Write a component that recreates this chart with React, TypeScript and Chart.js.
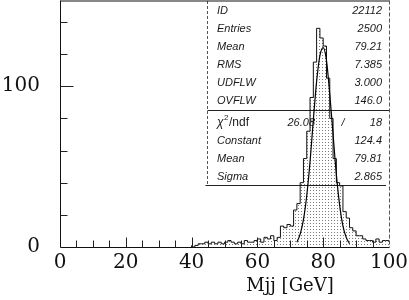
import React, { useEffect, useRef } from "react";
import { Chart, registerables } from "chart.js";
Chart.register(...registerables);

// Histogram: 1 GeV bins starting at 40 GeV
const binStart = 40;
const binWidth = 1;
const counts = [
  1, 0, 1, 2, 2, 3, 2, 3, 2, 3,
  2, 3, 4, 3, 2, 3, 2, 4, 3, 3,
  4, 5, 3, 6, 5, 7, 4, 6, 13, 12,
  14, 13, 23, 27, 40, 55, 72, 93, 115, 136,
  130, 125, 105, 80, 55, 40, 38, 22, 18, 12,
  10, 7, 7, 5, 4, 4, 3, 5, 3, 4,
];
// Gaussian fit curve
const fitX = [72, 73, 74, 75, 76, 77, 78, 79, 80, 81, 82, 83, 84, 85, 86, 87, 88];
const fitY = [3, 8, 17, 32, 53, 79, 103, 119, 124, 116, 95, 70, 45, 26, 13, 6, 2];

const xTickLabels = [0, 20, 40, 60, 80, 100];
const yTickLabels = [0, 100];
const xMinorTicks = [5, 10, 15, 20, 25, 30, 35, 40, 45, 50, 55, 60, 65, 70, 75, 80, 85, 90, 95];
const yMinorTicks = [20, 40, 60, 80, 100, 120, 140];

const statsLabels = ["ID", "Entries", "Mean", "RMS", "UDFLW", "OVFLW"];
const statsValues = ["22112", "2500", "79.21", "7.385", "3.000", "146.0"];
const fitLabels = ["Constant", "Mean", "Sigma"];
const fitValues = ["124.4", "79.81", "2.865"];
const chi2Value = "26.08";
const ndfValue = "18";
const xTitle = "Mjj [GeV]";

function makePattern(): CanvasPattern | string {
  const c = document.createElement("canvas");
  c.width = 3;
  c.height = 3;
  const g = c.getContext("2d");
  if (!g) return "#ccc";
  g.fillStyle = "#7a7a7a";
  g.fillRect(1, 1, 1, 1);
  const p = g.createPattern(c, "repeat");
  return p || "#ccc";
}

export default function App() {
  const ref = useRef<HTMLCanvasElement | null>(null);
  useEffect(() => {
    if (!ref.current) return;
    const histData = counts.map((c, i) => ({ x: binStart + i * binWidth, y: c }));
    histData.push({ x: binStart + counts.length * binWidth, y: counts[counts.length - 1] });
    const fitData = fitX.map((x, i) => ({ x, y: fitY[i] }));

    const decor = {
      id: "decor",
      beforeDatasetsDraw(chart: any) {
        const ctx = chart.ctx as CanvasRenderingContext2D;
        const ca = chart.chartArea;
        const bx = 207.5;
        ctx.save();
        ctx.strokeStyle = "#555";
        ctx.lineWidth = 1;
        ctx.setLineDash([3, 2]);
        ctx.beginPath();
        ctx.moveTo(bx, ca.top);
        ctx.lineTo(bx, 185.5);
        ctx.stroke();
        ctx.setLineDash([]);
        ctx.strokeStyle = "#222";
        ctx.beginPath();
        ctx.moveTo(bx, 110.5);
        ctx.lineTo(ca.right, 110.5);
        ctx.moveTo(bx - 2, 185.5);
        ctx.lineTo(ca.right - 3, 185.5);
        ctx.stroke();
        ctx.fillStyle = "#1a1a1a";
        ctx.font = "italic 11px 'Liberation Sans'";
        ctx.textBaseline = "alphabetic";
        const lx = 217;
        const rx = 382;
        statsLabels.forEach((l, i) => {
          const y = 14 + i * 18;
          ctx.textAlign = "left";
          ctx.fillText(l, lx, y);
          ctx.textAlign = "right";
          ctx.fillText(statsValues[i], rx, y);
        });
        const cy = 126;
        ctx.textAlign = "left";
        ctx.font = "italic 12px 'Liberation Sans'";
        ctx.fillText("\u03c7", lx, cy);
        ctx.font = "8px 'Liberation Sans'";
        ctx.fillText("2", lx + 7, cy - 6);
        ctx.font = "12px 'Liberation Sans'";
        ctx.fillText("/ndf", lx + 12, cy);
        ctx.font = "italic 11px 'Liberation Sans'";
        ctx.textAlign = "right";
        ctx.fillText(chi2Value, 315, cy);
        ctx.textAlign = "center";
        ctx.fillText("/", 343, cy);
        ctx.textAlign = "right";
        ctx.fillText(ndfValue, rx, cy);
        fitLabels.forEach((l, i) => {
          const y = 144 + i * 18;
          ctx.textAlign = "left";
          ctx.fillText(l, lx, y);
          ctx.textAlign = "right";
          ctx.fillText(fitValues[i], rx, y);
        });
        ctx.restore();
      },
      afterDatasetsDraw(chart: any) {
        const ctx = chart.ctx as CanvasRenderingContext2D;
        const ca = chart.chartArea;
        const xs = chart.scales.x;
        const ys = chart.scales.y;
        const L = Math.round(ca.left) + 0.5;
        const B = Math.round(ca.bottom) + 0.5;
        const R = Math.round(ca.right) + 0.5;
        const T = Math.round(ca.top) - 0.5;
        ctx.save();
        ctx.strokeStyle = "#111";
        ctx.lineWidth = 1;
        ctx.beginPath();
        ctx.moveTo(L, T);
        ctx.lineTo(L, B);
        ctx.lineTo(R, B);
        ctx.moveTo(L, T + 0.5);
        ctx.lineTo(R, T + 0.5);
        ctx.stroke();
        ctx.strokeStyle = "#555";
        ctx.setLineDash([4, 2]);
        ctx.beginPath();
        ctx.moveTo(R, T);
        ctx.lineTo(R, B);
        ctx.stroke();
        ctx.setLineDash([]);
        ctx.strokeStyle = "#222";
        ctx.beginPath();
        xMinorTicks.forEach((v) => {
          const px = Math.round(xs.getPixelForValue(v)) + 0.5;
          const len = v % 20 === 0 ? 10 : 7;
          ctx.moveTo(px, B);
          ctx.lineTo(px, B - len);
        });
        yMinorTicks.forEach((v) => {
          const py = Math.round(ys.getPixelForValue(v)) + 0.5;
          const len = v % 100 === 0 ? 13 : 7;
          ctx.moveTo(L, py);
          ctx.lineTo(L + len, py);
        });
        ctx.stroke();
        ctx.fillStyle = "#111";
        ctx.font = "18px 'DejaVu Serif'";
        ctx.textAlign = "center";
        ctx.textBaseline = "middle";
        ctx.fillText(xTitle, 290, 286);
        ctx.restore();
      },
    };

    const chart = new Chart(ref.current, {
      type: "line",
      data: {
        datasets: [
          {
            data: fitData,
            borderColor: "#000",
            borderWidth: 1.2,
            pointRadius: 0,
            fill: false,
            cubicInterpolationMode: "monotone",
          } as any,
          {
            data: histData,
            stepped: "after",
            fill: "origin",
            backgroundColor: makePattern() as any,
            borderColor: "#111",
            borderWidth: 1,
            pointRadius: 0,
          } as any,
        ],
      },
      options: {
        animation: false,
        responsive: false,
        devicePixelRatio: 1,
        layout: { padding: { top: 1, right: 20, left: 0, bottom: 0 } },
        plugins: { legend: { display: false }, tooltip: { enabled: false } },
        scales: {
          x: {
            type: "linear",
            min: 0,
            max: 100,
            grid: { display: false, drawTicks: false },
            border: { display: false },
            ticks: {
              font: { family: "DejaVu Serif", size: 20 },
              color: "#111",
              padding: 4,
              maxRotation: 0,
              autoSkip: false,
            },
            afterBuildTicks: (s: any) => {
              s.ticks = xTickLabels.map((v) => ({ value: v }));
            },
            afterFit: (s: any) => {
              s.height = 53;
              s.paddingLeft = 0;
              s.paddingRight = 0;
            },
          },
          y: {
            type: "linear",
            min: 0,
            max: 153,
            grid: { display: false, drawTicks: false },
            border: { display: false },
            ticks: {
              font: { family: "DejaVu Serif", size: 20 },
              color: "#111",
              padding: 20,
            },
            afterBuildTicks: (s: any) => {
              s.ticks = yTickLabels.map((v) => ({ value: v }));
            },
            afterFit: (s: any) => {
              s.width = 60;
              s.paddingTop = 0;
              s.paddingBottom = 0;
            },
          },
        },
      } as any,
      plugins: [decor],
    });
    return () => chart.destroy();
  }, []);

  return (
    <div style={{ position: "absolute", left: 0, top: 0, width: 409, height: 300, background: "#fff" }}>
      <canvas ref={ref} width={409} height={300} />
    </div>
  );
}
